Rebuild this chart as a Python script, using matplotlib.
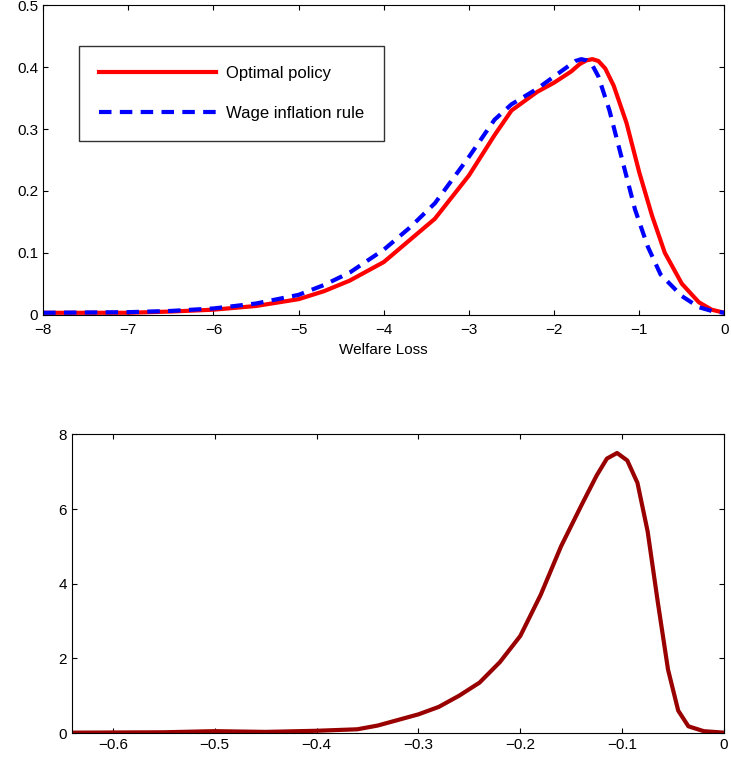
import numpy as np
from matplotlib import pyplot as plt
from matplotlib.ticker import FuncFormatter

x_opt = [-8, -7, -6.5, -6, -5.5, -5, -4.7, -4.4, -4, -3.7, -3.4, -3, -2.7, -2.5, -2.2, -2, -1.8, -1.7, -1.62, -1.55, -1.48, -1.4, -1.3, -1.15, -1, -0.85, -0.7, -0.5, -0.3, -0.15, 0]
y_opt = [0.003, 0.003, 0.005, 0.008, 0.014, 0.025, 0.038, 0.055, 0.085, 0.12, 0.155, 0.225, 0.29, 0.33, 0.36, 0.375, 0.393, 0.405, 0.411, 0.413, 0.41, 0.398, 0.37, 0.31, 0.23, 0.16, 0.1, 0.05, 0.02, 0.008, 0.003]
x_wage = [-8, -7, -6.5, -6, -5.5, -5, -4.7, -4.4, -4, -3.7, -3.4, -3, -2.7, -2.5, -2.2, -2, -1.85, -1.75, -1.68, -1.62, -1.55, -1.48, -1.35, -1.2, -1.05, -0.9, -0.75, -0.5, -0.3, -0.15, 0]
y_wage = [0.003, 0.004, 0.006, 0.01, 0.018, 0.032, 0.048, 0.068, 0.105, 0.14, 0.18, 0.255, 0.315, 0.34, 0.365, 0.385, 0.4, 0.41, 0.413, 0.411, 0.403, 0.385, 0.33, 0.25, 0.17, 0.11, 0.065, 0.03, 0.012, 0.006, 0.003]

x_diff = [-0.64, -0.55, -0.5, -0.45, -0.4, -0.36, -0.34, -0.32, -0.3, -0.28, -0.26, -0.24, -0.22, -0.2, -0.18, -0.16, -0.14, -0.125, -0.115, -0.105, -0.095, -0.085, -0.075, -0.065, -0.055, -0.045, -0.035, -0.02, 0]
y_diff = [0.01, 0.02, 0.05, 0.03, 0.06, 0.1, 0.2, 0.35, 0.5, 0.7, 1.0, 1.35, 1.9, 2.6, 3.7, 5.0, 6.1, 6.9, 7.35, 7.5, 7.3, 6.7, 5.4, 3.5, 1.7, 0.6, 0.18, 0.05, 0.01]

plt.rcParams['font.family'] = 'Liberation Sans'
plt.rcParams['font.size'] = 11
fig = plt.figure(figsize=(7.31, 7.6), dpi=100)

fmt = FuncFormatter(lambda v, p: ('%g' % v).replace('-', '\u2212'))

ax1 = fig.add_axes([0.059, 0.586, 0.932, 0.407])
ax1.plot(x_opt, y_opt, color='#ff0000', lw=3, label='Optimal policy')
ax1.plot(x_wage, y_wage, color='#0000ff', lw=3, ls=(0, (3, 2)), label='Wage inflation rule')
ax1.set_xlim(-8, 0)
ax1.set_ylim(0, 0.5)
ax1.xaxis.set_major_formatter(fmt)
ax1.yaxis.set_major_formatter(fmt)
ax1.set_xlabel('Welfare Loss')
ax1.tick_params(direction='in', top=True, right=True)
ax1.tick_params(axis='x', pad=6)
ax1.legend(loc='upper left', bbox_to_anchor=(0.053, 0.87), fancybox=False, edgecolor='black',
           handlelength=7, handletextpad=0.6, borderpad=1.2, labelspacing=1.5, fontsize=12,
           borderaxespad=0)

ax2 = fig.add_axes([0.0985, 0.0355, 0.892, 0.393])
ax2.plot(x_diff, y_diff, color='#990000', lw=3)
ax2.set_xlim(-0.64, 0)
ax2.set_ylim(0, 8)
ax2.set_yticks([0, 2, 4, 6, 8])
ax2.set_xticks([-0.6, -0.5, -0.4, -0.3, -0.2, -0.1, 0])
ax2.xaxis.set_major_formatter(fmt)
ax2.tick_params(direction='in', top=True, right=True)

fig.savefig('out.png')
